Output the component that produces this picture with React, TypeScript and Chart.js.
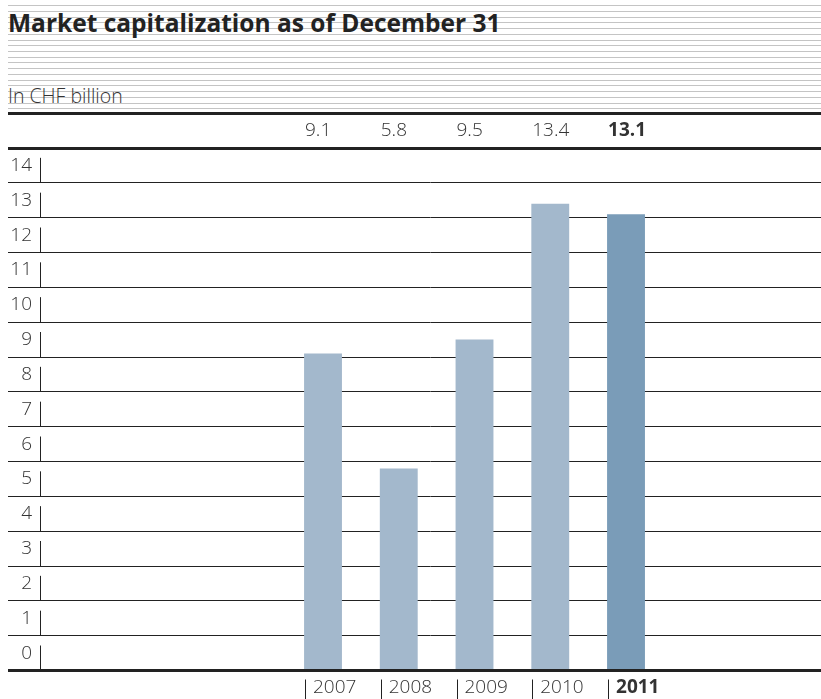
import React, { useEffect, useRef } from "react";
import { Chart, registerables } from "chart.js";

Chart.register(...registerables);

// ---- data ----
const years: string[] = ["2007", "2008", "2009", "2010", "2011"];
const marketCap: number[] = [9.1, 5.8, 9.5, 13.4, 13.1];
const highlightIndex = 4;
const yMin = 0;
const yMax = 15;
const yStep = 1;

const titleText = "Market capitalization as of December 31";
const subtitleText = "In CHF billion";

// ---- styles ----
const FONT = "'Open Sans', 'Noto Sans', sans-serif";
const lightBlue = "#a3b8cc";
const darkBlue = "#7a9cb8";
const ink = "#222222";
const labelColor = "#333333";

const decorPlugin = {
  id: "decor",
  afterDraw(chart: any) {
    const { ctx, chartArea, scales } = chart;
    const y = scales.y;
    ctx.save();
    ctx.strokeStyle = ink;
    ctx.lineWidth = 1;
    // short vertical ticks next to y labels
    const x = Math.round(chartArea.left) + 0.5;
    for (let v = yMin; v < yMax; v += yStep) {
      const py = y.getPixelForValue(v);
      ctx.beginPath();
      ctx.moveTo(x, py);
      ctx.lineTo(x, py - 25);
      ctx.stroke();
    }
    // pipe marks before x labels
    const meta = chart.getDatasetMeta(0);
    meta.data.forEach((bar: any) => {
      const p = bar.getProps(["x", "width"], true);
      const px = Math.round(p.x - p.width / 2) + 1.5;
      ctx.beginPath();
      ctx.moveTo(px, chartArea.bottom + 9);
      ctx.lineTo(px, chart.height);
      ctx.stroke();
    });
    ctx.restore();
  },
};

function ChartCanvas() {
  const ref = useRef<HTMLCanvasElement | null>(null);
  useEffect(() => {
    if (!ref.current) return;
    const xMin = -3.736;
    const xMax = 6.574;
    const tickSetter = (s: any) => {
      s.ticks = years.map((_, i) => ({ value: i }));
    };
    const chart = new Chart(ref.current, {
      type: "bar",
      data: {
        datasets: [
          {
            data: marketCap.map((v, i) => ({ x: i, y: v })) as any,
            backgroundColor: marketCap.map((_, i) =>
              i === highlightIndex ? darkBlue : lightBlue
            ),
            barPercentage: 0.5,
            categoryPercentage: 1,
            xAxisID: "x",
            yAxisID: "y",
          },
        ],
      },
      options: {
        animation: false,
        responsive: false,
        layout: { padding: { left: 8, right: 0, top: 0, bottom: 0 } },
        plugins: {
          legend: { display: false },
          tooltip: { enabled: false },
          title: { display: false },
        },
        scales: {
          x: {
            type: "linear",
            position: "bottom",
            offset: false,
            min: xMin,
            max: xMax,
            grid: { display: false, drawTicks: false },
            border: { display: false },
            afterBuildTicks: tickSetter,
            afterFit: (s: any) => {
              s.height = 28.5;
            },
            ticks: {
              align: "start",
              labelOffset: -10,
              padding: 6,
              autoSkip: false,
              maxRotation: 0,
              minRotation: 0,
              color: labelColor,
              font: (c: any) => ({
                family: FONT,
                size: 19,
                weight: c.index === highlightIndex ? "bold" : "300",
              }),
              callback: (v: any) => years[v as number] ?? "",
            },
          } as any,
          x2: {
            type: "linear",
            position: "top",
            offset: false,
            min: xMin,
            max: xMax,
            grid: { display: false, drawTicks: false },
            border: { display: false },
            afterBuildTicks: tickSetter,
            afterFit: (s: any) => {
              s.height = 33;
            },
            ticks: {
              align: "start",
              labelOffset: -18,
              padding: 6,
              autoSkip: false,
              maxRotation: 0,
              minRotation: 0,
              color: labelColor,
              font: (c: any) => ({
                family: FONT,
                size: 19,
                weight: c.index === highlightIndex ? "bold" : "300",
              }),
              callback: (v: any) =>
                marketCap[v as number] !== undefined
                  ? marketCap[v as number].toFixed(1)
                  : "",
            },
          } as any,
          y: {
            type: "linear",
            position: "left",
            min: yMin,
            max: yMax,
            afterFit: (s: any) => {
              s.width = 32;
            },
            grid: {
              color: ink,
              lineWidth: (c: any) =>
                c.tick && (c.tick.value === yMin || c.tick.value === yMax)
                  ? 3
                  : 1,
              drawTicks: true,
              tickLength: 32,
            },
            border: { display: false },
            ticks: {
              stepSize: yStep,
              padding: -24,
              labelOffset: -17.4,
              color: labelColor,
              font: { family: FONT, size: 19, weight: "300" },
              callback: (v: any) => (v === yMax ? "" : String(v)),
            },
          } as any,
        },
      },
      plugins: [decorPlugin],
    });
    return () => chart.destroy();
  }, []);
  return (
    <canvas
      ref={ref}
      width={821}
      height={584}
      style={{ display: "block", width: 821, height: 584 }}
    />
  );
}

export default function App() {
  const hatch: number[] = [];
  for (let i = 0; i < 19; i++) hatch.push(Math.round(5.3 + i * 5.72));
  return (
    <div
      style={{
        position: "fixed",
        left: 0,
        top: 0,
        width: 821,
        height: 699,
        overflow: "hidden",
        background: "#fff",
      }}
    >
      {hatch.map((y) => (
        <div
          key={y}
          style={{
            position: "absolute",
            left: 8,
            top: y,
            width: 813,
            height: 1,
            background: "#c4c4c4",
          }}
        />
      ))}
      <div
        style={{
          position: "absolute",
          left: 8,
          top: 11.2,
          fontFamily: FONT,
          fontWeight: 700,
          fontSize: 24.5,
          lineHeight: 1,
          color: ink,
          whiteSpace: "nowrap",
        }}
      >
        {titleText}
      </div>
      <div
        style={{
          position: "absolute",
          left: 8,
          top: 85.7,
          fontFamily: FONT,
          fontWeight: 300,
          fontSize: 19.5,
          lineHeight: 1,
          color: "#333",
          whiteSpace: "nowrap",
        }}
      >
        {subtitleText}
      </div>
      <div
        style={{
          position: "absolute",
          left: 8,
          top: 112,
          width: 813,
          height: 3,
          background: ink,
        }}
      />
      <div style={{ position: "absolute", left: 0, top: 115 }}>
        <ChartCanvas />
      </div>
    </div>
  );
}
